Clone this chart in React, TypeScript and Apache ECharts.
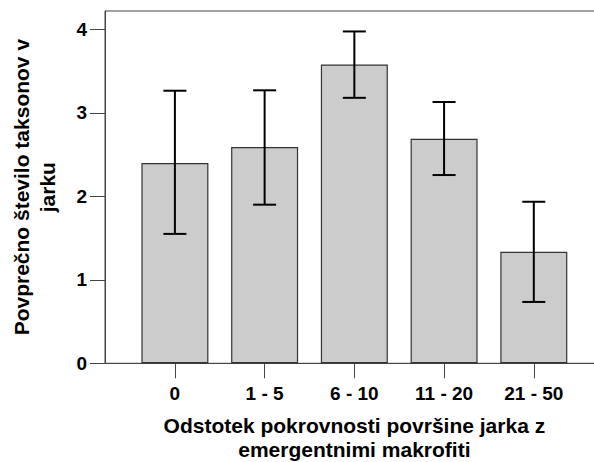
import React, { useEffect, useRef } from "react";
import * as echarts from "echarts";

// Coverage classes of emergent macrophytes (% of ditch surface)
const categories = ["0", "1 - 5", "6 - 10", "11 - 20", "21 - 50"];
// Mean number of taxa per ditch
const means = [2.4, 2.59, 3.58, 2.69, 1.335];
// Error bar limits
const errLow = [1.55, 1.9, 3.18, 2.255, 0.735];
const errHigh = [3.265, 3.27, 3.975, 3.13, 1.935];
const yTicks = [0, 1, 2, 3, 4];

const FONT = "'Liberation Sans', Arial, sans-serif";

export default function App() {
  const ref = useRef<HTMLDivElement>(null);

  useEffect(() => {
    if (!ref.current) return;
    const chart = echarts.init(ref.current, undefined, { renderer: "svg" });
    const xIdx = categories.map((_, i) => i);

    chart.setOption({
      animation: false,
      backgroundColor: "#ffffff",
      grid: {
        left: 105,
        top: 11,
        width: 498.7,
        height: 352.3,
        containLabel: false,
        outerBoundsMode: "none",
        show: true,
        borderColor: "#444444",
        borderWidth: 1,
        backgroundColor: "transparent",
      },
      xAxis: {
        type: "value",
        min: -0.779,
        max: 4.779,
        name: "Odstotek pokrovnosti površine jarka z\nemergentnimi makrofiti",
        nameLocation: "middle",
        nameGap: 50,
        nameTextStyle: {
          fontFamily: FONT,
          fontWeight: "bold",
          fontSize: 21,
          color: "#000000",
          lineHeight: 24,
        },
        axisLine: { show: true, onZero: false, lineStyle: { color: "#444444", width: 1 } },
        axisTick: {
          show: true,
          length: 15,
          customValues: xIdx,
          lineStyle: { color: "#444444", width: 1 },
        },
        axisLabel: {
          customValues: xIdx,
          margin: 21,
          fontFamily: FONT,
          fontWeight: "bold",
          fontSize: 19,
          color: "#000000",
          formatter: (v: number) => categories[Math.round(v)] ?? "",
        },
        splitLine: { show: false },
      },
      yAxis: {
        type: "value",
        min: 0,
        max: 4.22,
        name: "Povprečno število taksonov v\njarku",
        nameLocation: "middle",
        nameGap: 45,
        nameTextStyle: {
          fontFamily: FONT,
          fontWeight: "bold",
          fontSize: 21,
          color: "#000000",
          lineHeight: 26,
        },
        axisLine: { show: true, onZero: false, lineStyle: { color: "#444444", width: 1 } },
        axisTick: {
          show: true,
          length: 15,
          customValues: yTicks,
          lineStyle: { color: "#444444", width: 1 },
        },
        axisLabel: {
          customValues: yTicks,
          margin: 18,
          fontFamily: FONT,
          fontWeight: "bold",
          fontSize: 19,
          color: "#000000",
        },
        splitLine: { show: false },
      },
      series: [
        {
          type: "bar",
          barWidth: 67,
          data: means.map((m, i) => [i, m]),
          itemStyle: {
            color: "#cccccc",
            borderColor: "#333333",
            borderWidth: 1.2,
          },
        },
        {
          type: "custom",
          data: means.map((_, i) => [i, errLow[i], errHigh[i]]),
          renderItem: (_params: any, api: any) => {
            const x = api.value(0);
            const lo = api.coord([x, api.value(1)]);
            const hi = api.coord([x, api.value(2)]);
            const half = 11.5;
            const style = { stroke: "#000000", lineWidth: 2 };
            return {
              type: "group",
              children: [
                { type: "line", shape: { x1: hi[0], y1: hi[1], x2: lo[0], y2: lo[1] }, style },
                { type: "line", shape: { x1: hi[0] - half, y1: hi[1], x2: hi[0] + half, y2: hi[1] }, style },
                { type: "line", shape: { x1: lo[0] - half, y1: lo[1], x2: lo[0] + half, y2: lo[1] }, style },
              ],
            };
          },
          z: 5,
        },
      ],
    });

    return () => chart.dispose();
  }, []);

  return (
    <div
      style={{
        position: "absolute",
        left: 0,
        top: 0,
        width: 594,
        height: 462,
        overflow: "hidden",
        background: "#ffffff",
      }}
    >
      <div ref={ref} style={{ width: 620, height: 462 }} />
    </div>
  );
}
